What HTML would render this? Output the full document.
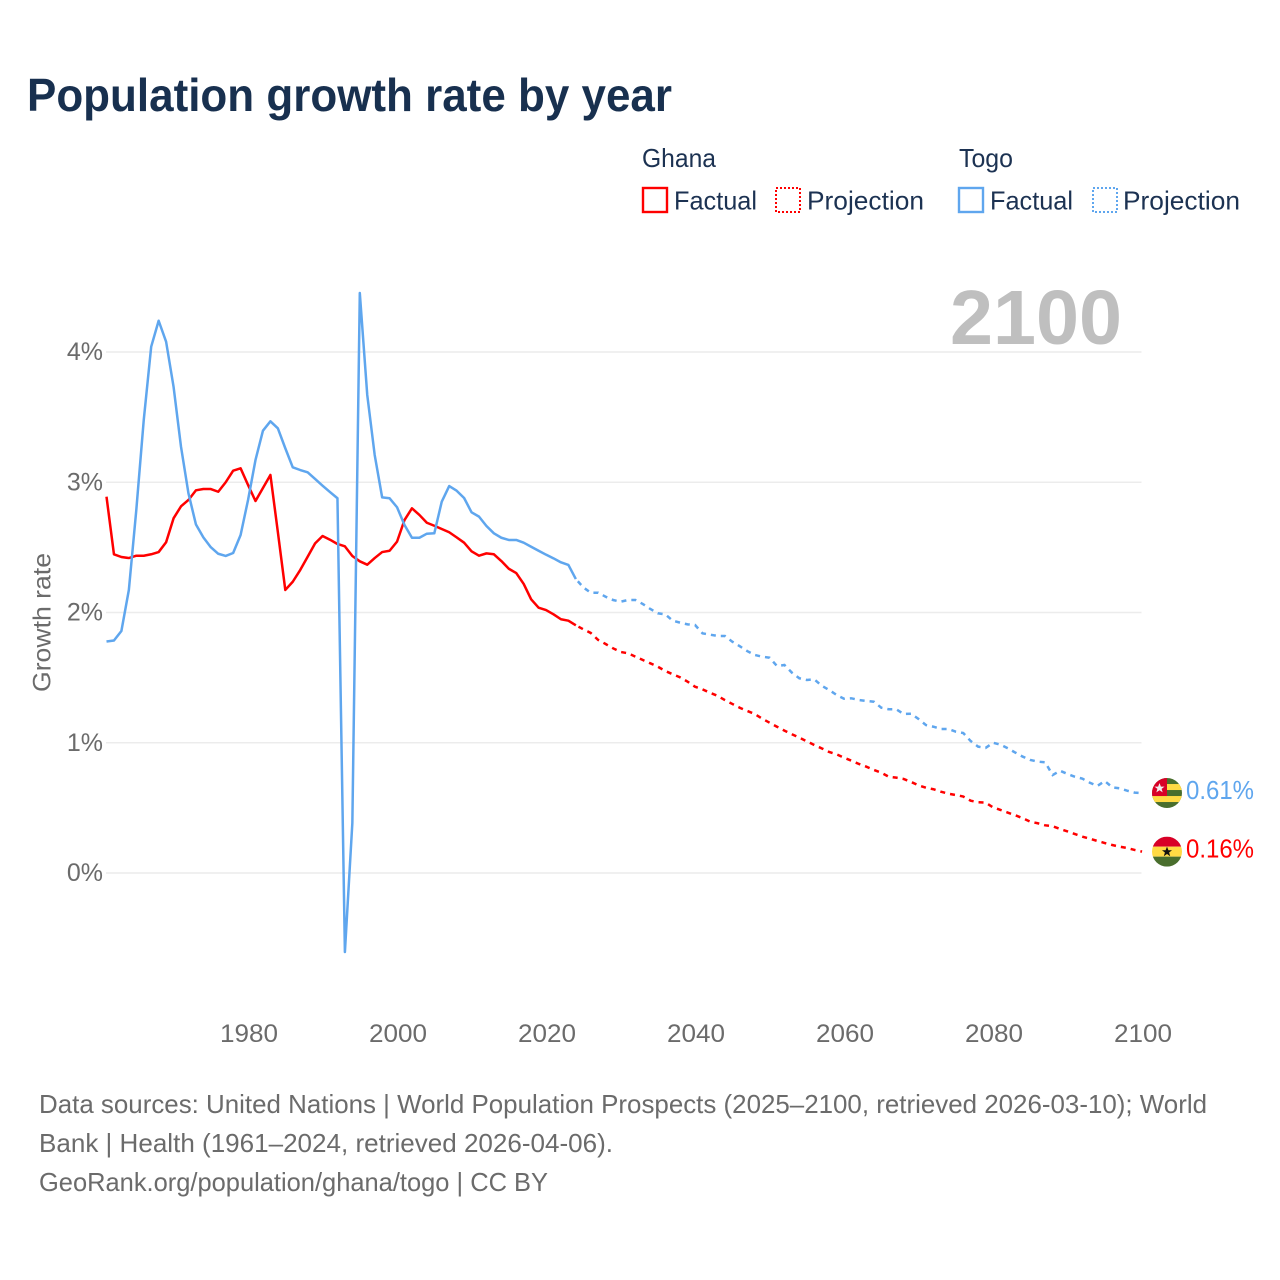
<!DOCTYPE html>
<html lang="en">
<head>
<meta charset="utf-8">
<title>Population growth rate by year</title>
<style>
html,body{margin:0;padding:0;background:#fff;}
svg{display:block;font-family:"Liberation Sans",sans-serif;}
</style>
</head>
<body>
<svg id="chart" xmlns="http://www.w3.org/2000/svg" width="1280" height="1280" viewBox="0 0 1280 1280">
  <rect x="0" y="0" width="1280" height="1280" fill="#ffffff"/>
  <text x="27" y="111" font-size="46" font-weight="700" fill="#18304f" textLength="645" lengthAdjust="spacingAndGlyphs">Population growth rate by year</text>

  <g font-size="26" fill="#1c3252">
    <text x="642" y="167" textLength="74" lengthAdjust="spacingAndGlyphs">Ghana</text>
    <text x="959" y="167" textLength="54" lengthAdjust="spacingAndGlyphs">Togo</text>
    <g>
      <rect x="643" y="188" width="24" height="24" fill="none" stroke="#ff0000" stroke-width="2.4"/>
      <text x="674" y="209.5" textLength="83" lengthAdjust="spacingAndGlyphs">Factual</text>
    </g>
    <g>
      <rect x="776" y="188" width="24" height="24" fill="none" stroke="#ff0000" stroke-width="2" stroke-dasharray="2 2"/>
      <text x="807" y="209.5" textLength="117" lengthAdjust="spacingAndGlyphs">Projection</text>
    </g>
    <g>
      <rect x="959" y="188" width="24" height="24" fill="none" stroke="#5fa6ee" stroke-width="2.4"/>
      <text x="990" y="209.5" textLength="83" lengthAdjust="spacingAndGlyphs">Factual</text>
    </g>
    <g>
      <rect x="1093" y="188" width="24" height="24" fill="none" stroke="#5fa6ee" stroke-width="2" stroke-dasharray="2 2"/>
      <text x="1123" y="209.5" textLength="117" lengthAdjust="spacingAndGlyphs">Projection</text>
    </g>
  </g>

  <g id="grid"></g>
  <g id="yticks" font-size="25" fill="#6b6b6b" text-anchor="end"></g>
  <g id="xticks" font-size="25" fill="#6b6b6b" text-anchor="middle"></g>
  <text transform="translate(50.5,692) rotate(-90)" font-size="25" fill="#6b6b6b" textLength="139" lengthAdjust="spacingAndGlyphs">Growth rate</text>
  <text x="950" y="344" font-size="77" font-weight="700" fill="#bfbfbf" textLength="172" lengthAdjust="spacingAndGlyphs">2100</text>

  <g id="series"></g>

  <defs>
    <clipPath id="flag-clip"><circle cx="0" cy="0" r="15"/></clipPath>
  </defs>
  <g id="flag-togo" clip-path="url(#flag-clip)">
    <rect x="-15" y="-15" width="30" height="30" fill="#496e2d"/>
    <rect x="-15" y="-9" width="30" height="6" fill="#ffda44"/>
    <rect x="-15" y="3" width="30" height="6" fill="#ffda44"/>
    <rect x="-15" y="-15" width="15" height="18" fill="#d80027"/>
    <polygon points="-7.5,-10 -6.1,-6.4 -2.5,-6.4 -5.4,-4.2 -4.3,-0.6 -7.5,-2.8 -10.7,-0.6 -9.6,-4.2 -12.5,-6.4 -8.9,-6.4" fill="#f0f0f0"/>
  </g>
  <g id="flag-ghana" clip-path="url(#flag-clip)">
    <rect x="-15" y="-15" width="30" height="10" fill="#d80027"/>
    <rect x="-15" y="-5" width="30" height="10" fill="#ffda44"/>
    <rect x="-15" y="5" width="30" height="10" fill="#496e2d"/>
    <polygon points="0,-5 1.4,-1.4 5,-1.4 2.1,0.9 3.2,4.6 0,2.4 -3.2,4.6 -2.1,0.9 -5,-1.4 -1.4,-1.4" fill="#111111"/>
  </g>
  <text id="label-togo" x="1186" font-size="26" fill="#5fa6ee" textLength="68" lengthAdjust="spacingAndGlyphs"></text>
  <text id="label-ghana" x="1186" font-size="26" fill="#ff0000" textLength="68" lengthAdjust="spacingAndGlyphs"></text>

  <g font-size="26" fill="#6b6b6b">
    <text x="39" y="1113" textLength="1168" lengthAdjust="spacingAndGlyphs">Data sources: United Nations | World Population Prospects (2025–2100, retrieved 2026-03-10); World</text>
    <text x="39" y="1152" textLength="574" lengthAdjust="spacingAndGlyphs">Bank | Health (1961–2024, retrieved 2026-04-06).</text>
    <text x="39" y="1191" textLength="509" lengthAdjust="spacingAndGlyphs">GeoRank.org/population/ghana/togo | CC BY</text>
  </g>
</svg>
<script>
const firstYear = 1961;
const xTickYears = [1980, 2000, 2020, 2040, 2060, 2080, 2100];
const yTickValues = [0, 1, 2, 3, 4];

const ghanaFactual = [
  2.889,2.447,2.426,2.418,2.436,2.436,2.447,2.464,2.539,2.723,
  2.815,2.864,2.938,2.948,2.948,2.927,3.000,3.089,3.107,2.979,
  2.856,2.956,3.056,2.618,2.173,2.236,2.326,2.428,2.531,2.587,
  2.559,2.526,2.508,2.434,2.393,2.367,2.418,2.464,2.474,2.544,
  2.710,2.800,2.749,2.689,2.666,2.641,2.616,2.577,2.536,2.470,
  2.436,2.454,2.447,2.395,2.336,2.303,2.219,2.101,2.037,2.019,
  1.986,1.948,1.937,1.902
];
const ghanaProjection = [
  1.871,1.843,1.789,1.758,1.725,1.697,1.687,1.661,1.635,1.610,
  1.584,1.551,1.526,1.502,1.469,1.430,1.410,1.384,1.361,1.328,
  1.298,1.269,1.244,1.221,1.185,1.154,1.123,1.093,1.065,1.039,
  1.011,0.983,0.957,0.929,0.911,0.885,0.862,0.837,0.816,0.791,
  0.770,0.739,0.732,0.722,0.699,0.673,0.655,0.643,0.624,0.609,
  0.599,0.587,0.555,0.543,0.540,0.504,0.484,0.463,0.443,0.420,
  0.394,0.382,0.366,0.359,0.338,0.319,0.299,0.279,0.263,0.246,
  0.230,0.215,0.202,0.192,0.177,0.164
];
const togoFactual = [
  1.777,1.785,1.858,2.173,2.787,3.478,4.041,4.240,4.079,3.734,
  3.273,2.915,2.677,2.577,2.501,2.451,2.434,2.457,2.595,2.864,
  3.171,3.396,3.468,3.414,3.261,3.115,3.094,3.076,3.025,2.974,
  2.925,2.877,-0.607,0.384,4.453,3.670,3.209,2.884,2.877,2.808,
  2.672,2.574,2.574,2.605,2.608,2.851,2.971,2.935,2.879,2.769,
  2.736,2.664,2.608,2.574,2.557,2.557,2.536,2.505,2.474,2.444,
  2.416,2.385,2.365,2.257
];
const togoProjection = [
  2.193,2.152,2.152,2.121,2.096,2.083,2.096,2.096,2.065,2.027,
  1.994,1.986,1.937,1.922,1.909,1.904,1.840,1.830,1.820,1.820,
  1.776,1.741,1.704,1.674,1.661,1.653,1.589,1.597,1.538,1.495,
  1.482,1.487,1.438,1.405,1.367,1.338,1.341,1.328,1.321,1.315,
  1.269,1.257,1.257,1.221,1.223,1.182,1.136,1.123,1.106,1.106,
  1.085,1.075,1.013,0.970,0.960,1.000,0.985,0.957,0.924,0.893,
  0.868,0.855,0.850,0.752,0.785,0.760,0.739,0.724,0.693,0.668,
  0.706,0.658,0.650,0.632,0.617,0.614
];

const SVG_NS = 'http://www.w3.org/2000/svg';
const xScale = function (year) { return 106.5 + (year - 1961) * 7.45; };
const yScale = function (value) { return 873 - value * 130.25; };

const gridGroup = document.getElementById('grid');
const yTickGroup = document.getElementById('yticks');
const xTickGroup = document.getElementById('xticks');
const seriesGroup = document.getElementById('series');

yTickValues.forEach(function (value) {
  const line = document.createElementNS(SVG_NS, 'line');
  
  
  line.setAttribute('x1', 106);
  line.setAttribute('x2', 1141.5);
  line.setAttribute('y1', yScale(value));
  line.setAttribute('y2', yScale(value));
  line.setAttribute('stroke', '#ececec');
  line.setAttribute('stroke-width', '1.5');
  gridGroup.appendChild(line);

  const label = document.createElementNS(SVG_NS, 'text');
  
  
  label.setAttribute('x', 103);
  label.setAttribute('y', yScale(value) + 8);
  label.textContent = value + '%';
  yTickGroup.appendChild(label);
});

xTickYears.forEach(function (year) {
  const label = document.createElementNS(SVG_NS, 'text');
  
  
  label.setAttribute('x', xScale(year) + 1);
  label.setAttribute('y', 1042);
  label.setAttribute('textLength', '58');
  label.setAttribute('lengthAdjust', 'spacingAndGlyphs');
  label.textContent = year;
  xTickGroup.appendChild(label);
});

function buildPath(values, startYear) {
  return values.map(function (value, i) {
    return (i ? 'L' : 'M') + xScale(startYear + i).toFixed(2) + ' ' + yScale(value).toFixed(2);
  }).join(' ');
}

function drawSeries(name, color, factual, projection) {
  const solid = document.createElementNS(SVG_NS, 'path');
  
  
  solid.setAttribute('d', buildPath(factual, firstYear));
  solid.setAttribute('fill', 'none');
  solid.setAttribute('stroke', color);
  solid.setAttribute('stroke-width', '2.5');
  solid.setAttribute('stroke-linejoin', 'round');
  seriesGroup.appendChild(solid);

  const lastFactual = factual[factual.length - 1];
  const dashed = document.createElementNS(SVG_NS, 'path');
  
  
  dashed.setAttribute('d', buildPath([lastFactual].concat(projection), firstYear + factual.length - 1));
  dashed.setAttribute('fill', 'none');
  dashed.setAttribute('stroke', color);
  dashed.setAttribute('stroke-width', '2.5');
  dashed.setAttribute('stroke-dasharray', '5 5');
  dashed.setAttribute('stroke-dashoffset', '-3');
  seriesGroup.appendChild(dashed);
}

drawSeries('ghana', '#ff0000', ghanaFactual, ghanaProjection);
drawSeries('togo', '#5fa6ee', togoFactual, togoProjection);

function placeEnd(flagId, labelId, value) {
  const y = yScale(value);
  document.getElementById(flagId).setAttribute('transform', 'translate(1167,' + y.toFixed(2) + ')');
  const label = document.getElementById(labelId);
  label.setAttribute('y', (y + 6).toFixed(2));
  label.textContent = value.toFixed(2) + '%';
}
placeEnd('flag-togo', 'label-togo', togoProjection[togoProjection.length - 1]);
placeEnd('flag-ghana', 'label-ghana', ghanaProjection[ghanaProjection.length - 1]);
</script>
</body>
</html>
